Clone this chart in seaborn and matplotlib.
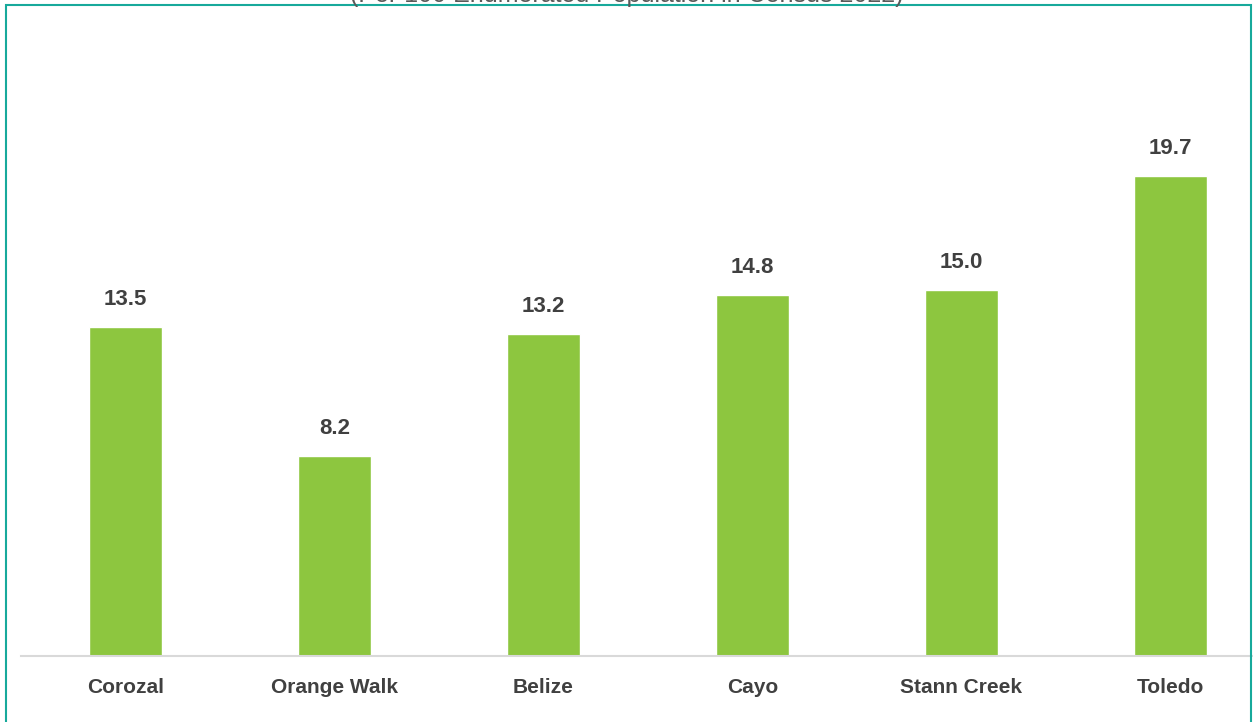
import matplotlib
matplotlib.use("Agg")
import matplotlib.pyplot as plt
from matplotlib.patches import Rectangle
import seaborn as sns
import pandas as pd

districts = ["Corozal", "Orange Walk", "Belize", "Cayo", "Stann Creek", "Toledo"]
rates = [13.5, 8.2, 13.2, 14.8, 15.0, 19.7]
subtitle = "(Per 100 Enumerated Population in Census 2022)"

sns.set_style("white")
plt.rcParams["font.family"] = ["Liberation Sans", "DejaVu Sans"]

W, H = 1253, 722
fig = plt.figure(figsize=(W / 100, H / 100), dpi=100)

# axes geometry in pixels
left_px, right_px, bottom_px, top_px = 21, 1253, 656, 20
ax = fig.add_axes([left_px / W, 1 - bottom_px / H,
                   (right_px - left_px) / W, (bottom_px - top_px) / H])

df = pd.DataFrame({"district": districts, "rate": rates})
sns.barplot(data=df, x="district", y="rate", color="#8DC63F", width=0.35,
            saturation=1, ax=ax)

step = 209
ax.set_xlim(-0.5, (right_px - left_px) / step - 0.5)
ax.set_ylim(0, (bottom_px - top_px) / 24.37)

for i, v in enumerate(rates):
    ax.annotate(f"{v:.1f}", (i, v), xytext=(0, 20), textcoords="offset points",
                ha="center", va="center", fontsize=16, fontweight="bold",
                color="#404040")

ax.set_xlabel("")
ax.set_ylabel("")
ax.set_yticks([])
ax.tick_params(axis="x", length=0, pad=16, labelsize=15, labelcolor="#404040")
for lbl in ax.get_xticklabels():
    lbl.set_fontweight("bold")
for s in ["top", "right", "left"]:
    ax.spines[s].set_visible(False)
ax.spines["bottom"].set_color("#D9D9D9")
ax.spines["bottom"].set_linewidth(1.5)

# outer frame
frame = Rectangle((6 / W, -0.05), (1251 - 6) / W, 1.05 - 5 / H,
                  transform=fig.transFigure, fill=False,
                  edgecolor="#17A99B", linewidth=1.5, clip_on=False)
fig.add_artist(frame)

# subtitle sitting at the top edge
fig.text(0.5, 1 - 2 / H, subtitle, ha="center", va="baseline", fontsize=18,
         color="#595959")

fig.savefig("out.png", dpi=100)
